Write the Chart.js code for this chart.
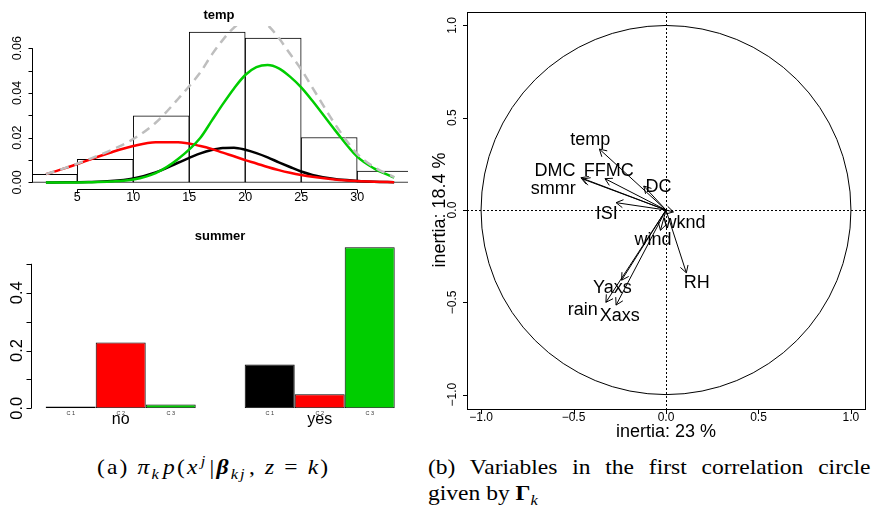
<!DOCTYPE html>
<html><head><meta charset="utf-8">
<script src="https://cdn.jsdelivr.net/npm/chart.js@4/dist/chart.umd.min.js"></script>
<style>
body{margin:0;background:#fff;width:873px;height:505px;overflow:hidden;position:relative;font-family:"Liberation Sans",Arial,sans-serif}
canvas{position:absolute}
#c1{left:0;top:0}
#c2{left:0;top:210px}
#c3{left:420px;top:0}
.cap{position:absolute;font-family:"Liberation Serif","DejaVu Serif",serif;font-size:21px;line-height:25px;color:#000;white-space:nowrap;transform:scaleX(1.12);transform-origin:0 0}
.cap sub,.cap sup{line-height:0;font-size:70%}
.math{letter-spacing:1.9px}
.math sub{margin-right:2px}
.math sup{margin-left:1px;margin-right:2px}
.just{text-align:justify;text-align-last:justify;white-space:normal}
</style></head><body>
<canvas id="c1" width="420" height="210"></canvas>
<canvas id="c2" width="420" height="230"></canvas>
<canvas id="c3" width="453" height="445"></canvas>
<div class="cap math" style="left:97px;top:455px">(a) <i>π</i><sub><i>k</i></sub><i>p</i>(<i>x</i><sup><i>j</i></sup>|<b><i>β</i></b><sub><i>kj</i></sub>, <i>z</i>&nbsp;=&nbsp;<i>k</i>)</div>
<div class="cap just" style="left:428px;top:455px;width:395px">(b) Variables in the first correlation circle</div>
<div class="cap" style="left:428px;top:481px">given by <b>Γ</b><sub><i>k</i></sub></div>
<script>
// ---------- data: temp histogram + mixture densities ----------
const tempBinCenters = [2.5, 7.5, 12.5, 17.5, 22.5, 27.5, 32.5];
const tempDensity    = [0.0036, 0.0103, 0.0298, 0.0672, 0.0645, 0.0201, 0.0051];
const curveX   = [2.2, 4, 6, 8, 10, 12, 14, 16, 17, 18, 19, 20, 21, 22, 23, 24, 25, 26, 28, 30, 31.5, 33.3];
const densC1   = [0, 0.0001, 0.0002, 0.0006, 0.0018, 0.0045, 0.0088, 0.0130, 0.0145, 0.0154, 0.0155, 0.0146, 0.0131, 0.0112, 0.0090, 0.0069, 0.0049, 0.0034, 0.0015, 0.0007, 0.0003, 0.0001];
const densC2   = [0.0037, 0.0065, 0.0100, 0.0134, 0.0163, 0.0180, 0.0180, 0.0163, 0.0150, 0.0133, 0.0117, 0.0100, 0.0085, 0.0069, 0.0055, 0.0043, 0.0033, 0.0025, 0.0013, 0.0006, 0.0003, 0.0001];
const densC3   = [0, 0, 0.0001, 0.0004, 0.0013, 0.0042, 0.0105, 0.0200, 0.0275, 0.0350, 0.0420, 0.0480, 0.0515, 0.0525, 0.0510, 0.0473, 0.0425, 0.0365, 0.0235, 0.0115, 0.0063, 0.0022];
const densMix  = [0.0037, 0.0066, 0.0103, 0.0144, 0.0194, 0.0267, 0.0373, 0.0493, 0.0570, 0.0637, 0.0692, 0.0726, 0.0731, 0.0703, 0.0645, 0.0575, 0.0505, 0.0424, 0.0262, 0.0128, 0.0069, 0.0024];
const tempTicksX = [5, 10, 15, 20, 25, 30];
const tempTicksY = [0, 0.01, 0.02, 0.03, 0.04, 0.05, 0.06];
const tempTickLabelsY = ['0.00', '', '0.02', '', '0.04', '', '0.06'];

// ---------- data: summer bars ----------
const summerLevels = ['no', 'yes'];
const clusterNames = ['C 1', 'C 2', 'C 3'];
const summerC1 = [0.006, 0.152];
const summerC2 = [0.228, 0.049];
const summerC3 = [0.013, 0.557];
const summerTicksY = [0, 0.1, 0.2, 0.3, 0.4, 0.5];
const summerTickLabelsY = ['0.0', '', '0.2', '', '0.4', ''];

// ---------- data: correlation circle ----------
const varNames = ['temp', 'DMC', 'smmr', 'FFMC', 'DC', 'ISI', 'wknd', 'wind', 'RH', 'Yaxs', 'rain', 'Xaxs'];
const loadX    = [-0.36, -0.46, -0.45, -0.33, -0.12, -0.27, 0.04, -0.03, 0.11, -0.24, -0.325, -0.27];
const loadY    = [0.33, 0.175, 0.168, 0.17, 0.13, 0.04, -0.01, -0.11, -0.34, -0.38, -0.50, -0.515];
const labelX   = [-0.41, -0.60, -0.61, -0.31, -0.04, -0.32, 0.10, -0.07, 0.166, -0.29, -0.45, -0.25];
const labelY   = [0.38, 0.213, 0.114, 0.21, 0.125, -0.02, -0.07, -0.16, -0.396, -0.42, -0.54, -0.573];
const corTicks = [-1, -0.5, 0, 0.5, 1];
const corTickLabels = ['\u22121.0', '\u22120.5', '0.0', '0.5', '1.0'];
const inertiaX = 'inertia: 23 %';
const inertiaY = 'inertia: 18.4 %';

const pts = (xs, ys) => xs.map((x, i) => ({x, y: ys[i]}));
const SANS = '"Liberation Sans", Arial, sans-serif';
function txt(ctx, s, x, y, font, rot, align, color) {
  ctx.save(); ctx.font = font; ctx.fillStyle = color || '#000';
  ctx.textAlign = align || 'center'; ctx.textBaseline = 'middle';
  ctx.translate(x, y); if (rot) ctx.rotate(rot); ctx.fillText(s, 0, 0); ctx.restore();
}
const base = {responsive: false, animation: false, devicePixelRatio: 1,
  plugins: {legend: {display: false}, tooltip: {enabled: false}}};

// ================= Chart 1: temp =================
const tempAxes = {id: 'tempAxes', afterDraw(chart) {
  const ctx = chart.ctx, xs = chart.scales.x, ys = chart.scales.y, a = chart.chartArea;
  ctx.save(); ctx.strokeStyle = '#000'; ctx.lineWidth = 1;
  const yA = Math.round(a.bottom) + 0.5;
  ctx.beginPath();
  ctx.moveTo(xs.getPixelForValue(tempTicksX[0]), yA);
  ctx.lineTo(xs.getPixelForValue(tempTicksX[tempTicksX.length - 1]), yA);
  tempTicksX.forEach(v => { const p = Math.round(xs.getPixelForValue(v)) + 0.5; ctx.moveTo(p, yA); ctx.lineTo(p, yA + 4); });
  const xA = Math.round(a.left) + 0.5;
  ctx.moveTo(xA, ys.getPixelForValue(tempTicksY[0]));
  ctx.lineTo(xA, ys.getPixelForValue(tempTicksY[tempTicksY.length - 1]));
  tempTicksY.forEach(v => { const p = Math.round(ys.getPixelForValue(v)) + 0.5; ctx.moveTo(xA, p); ctx.lineTo(xA - 4, p); });
  ctx.stroke(); ctx.restore();
  tempTicksX.forEach(v => txt(ctx, String(v), xs.getPixelForValue(v), 198, '12.5px ' + SANS));
  tempTicksY.forEach((v, i) => { if (tempTickLabelsY[i]) txt(ctx, tempTickLabelsY[i], 18, ys.getPixelForValue(v), '12.5px ' + SANS, -Math.PI / 2); });
  txt(ctx, 'temp', 219, 15, 'bold 13px ' + SANS);
}};
const lineDs = (ys, color, order, dash) => ({type: 'line', data: pts(curveX, ys), borderColor: color, borderWidth: 2.5,
  pointRadius: 0, cubicInterpolationMode: 'monotone', clip: 0, order, borderDash: dash || [], borderCapStyle: 'butt'});
new Chart(document.getElementById('c1'), {
  type: 'bar',
  data: {datasets: [
    {type: 'bar', data: pts(tempBinCenters, tempDensity), backgroundColor: '#fff', borderColor: '#000', borderWidth: 1,
     borderSkipped: false, barPercentage: 1, categoryPercentage: 1, clip: 0, order: 5},
    lineDs(densC1, '#000000', 4),
    lineDs(densC2, '#ff0000', 3),
    lineDs(densC3, '#00cd00', 2),
    lineDs(densMix, '#bebebe', 1, [9, 6])
  ]},
  options: Object.assign({}, base, {
    layout: {padding: {left: 32, right: 12, top: 26, bottom: 21.5}},
    scales: {x: {type: 'linear', min: 0.956, max: 34.54, offset: false, display: false},
             y: {type: 'linear', min: -0.0027, max: 0.0699, display: false}}
  }),
  plugins: [tempAxes]
});

// ================= Chart 2: summer =================
const summerAxes = {id: 'summerAxes', afterDraw(chart) {
  const ctx = chart.ctx, xs = chart.scales.x, ys = chart.scales.y;
  ctx.save(); ctx.strokeStyle = '#000'; ctx.lineWidth = 1;
  const xA = 31.5;
  ctx.beginPath();
  ctx.moveTo(xA, ys.getPixelForValue(summerTicksY[0]));
  ctx.lineTo(xA, ys.getPixelForValue(summerTicksY[summerTicksY.length - 1]));
  summerTicksY.forEach(v => { const p = Math.round(ys.getPixelForValue(v)) + 0.5; ctx.moveTo(xA, p); ctx.lineTo(xA - 5, p); });
  ctx.stroke(); ctx.restore();
  summerTicksY.forEach((v, i) => { if (summerTickLabelsY[i]) txt(ctx, summerTickLabelsY[i], 17, ys.getPixelForValue(v), '16.5px ' + SANS, -Math.PI / 2); });
  chart.data.datasets.forEach((ds, di) => {
    chart.getDatasetMeta(di).data.forEach(bar => txt(ctx, clusterNames[di], bar.x, 203.5, '5.5px ' + SANS, 0, 'center', '#333'));
  });
  summerLevels.forEach((l, i) => txt(ctx, l, xs.getPixelForValue(i), 209.5, '16px ' + SANS));
  txt(ctx, 'summer', 220, 26.5, 'bold 13px ' + SANS);
}};
const barDs = (d, color) => ({data: d, backgroundColor: color, borderColor: '#000', borderWidth: 1, borderSkipped: false,
  barPercentage: 1, categoryPercentage: 0.7538});
new Chart(document.getElementById('c2'), {
  type: 'bar',
  data: {labels: summerLevels, datasets: [barDs(summerC1, '#000000'), barDs(summerC2, '#ff0000'), barDs(summerC3, '#00cd00')]},
  options: Object.assign({}, base, {
    layout: {padding: {left: 21.2, right: 0.8, top: 30, bottom: 31.7}},
    scales: {x: {display: false}, y: {min: 0, max: 0.5824, display: false}}
  }),
  plugins: [summerAxes]
});

// ================= Chart 3: correlation circle =================
const corPlugin = {id: 'cor',
  beforeDatasetsDraw(chart) {
    const ctx = chart.ctx, xs = chart.scales.x, ys = chart.scales.y, a = chart.chartArea;
    const x0 = xs.getPixelForValue(0), y0 = ys.getPixelForValue(0);
    ctx.save(); ctx.strokeStyle = '#000'; ctx.lineWidth = 1;
    ctx.setLineDash([2, 2]);
    ctx.beginPath();
    ctx.moveTo(Math.round(x0) + 0.5, a.top); ctx.lineTo(Math.round(x0) + 0.5, a.bottom);
    ctx.moveTo(a.left, Math.round(y0) + 0.5); ctx.lineTo(a.right, Math.round(y0) + 0.5);
    ctx.stroke();
    ctx.setLineDash([]);
    const rx = xs.getPixelForValue(1) - x0, ry = y0 - ys.getPixelForValue(1);
    ctx.beginPath(); ctx.ellipse(x0, y0, rx, ry, 0, 0, Math.PI * 2); ctx.stroke();
    ctx.restore();
  },
  afterDatasetsDraw(chart) {
    const ctx = chart.ctx, xs = chart.scales.x, ys = chart.scales.y, a = chart.chartArea;
    const x0 = xs.getPixelForValue(0), y0 = ys.getPixelForValue(0);
    ctx.save(); ctx.strokeStyle = '#000'; ctx.lineWidth = 1;
    ctx.beginPath();
    varNames.forEach((n, i) => {
      const tx = xs.getPixelForValue(loadX[i]), ty = ys.getPixelForValue(loadY[i]);
      const ang = Math.atan2(ty - y0, tx - x0), L = 8, h = Math.PI / 6;
      ctx.moveTo(tx - L * Math.cos(ang - h), ty - L * Math.sin(ang - h)); ctx.lineTo(tx, ty);
      ctx.lineTo(tx - L * Math.cos(ang + h), ty - L * Math.sin(ang + h));
    });
    ctx.stroke();
    ctx.strokeRect(Math.round(a.left) + 0.5, Math.round(a.top) + 0.5, Math.round(a.right - a.left), Math.round(a.bottom - a.top));
    ctx.beginPath();
    corTicks.forEach(v => {
      const px = Math.round(xs.getPixelForValue(v)) + 0.5, py = Math.round(ys.getPixelForValue(v)) + 0.5;
      ctx.moveTo(px, Math.round(a.bottom) + 0.5); ctx.lineTo(px, Math.round(a.bottom) + 5);
      ctx.moveTo(Math.round(a.left) + 0.5, py); ctx.lineTo(Math.round(a.left) - 4, py);
    });
    ctx.stroke(); ctx.restore();
    varNames.forEach((n, i) => txt(ctx, n, xs.getPixelForValue(labelX[i]), ys.getPixelForValue(labelY[i]), '18px ' + SANS));
    corTicks.forEach((v, i) => {
      txt(ctx, corTickLabels[i], xs.getPixelForValue(v), 418, '12px ' + SANS);
      txt(ctx, corTickLabels[i], 33, ys.getPixelForValue(v), '12px ' + SANS, -Math.PI / 2);
    });
    txt(ctx, inertiaX, x0, 432, '18px ' + SANS);
    txt(ctx, inertiaY, 20, y0, '18px ' + SANS, -Math.PI / 2);
  }
};
new Chart(document.getElementById('c3'), {
  type: 'scatter',
  data: {datasets: varNames.map((n, i) => ({label: n, data: [{x: 0, y: 0}, {x: loadX[i], y: loadY[i]}], showLine: true,
    borderColor: '#000', borderWidth: 1, pointRadius: 0, clip: false}))},
  options: Object.assign({}, base, {
    layout: {padding: {left: 47, right: 8, top: 12, bottom: 36}},
    scales: {x: {type: 'linear', min: -1.076, max: 1.076, display: false},
             y: {type: 'linear', min: -1.078, max: 1.073, display: false}}
  }),
  plugins: [corPlugin]
});
</script>
</body></html>
